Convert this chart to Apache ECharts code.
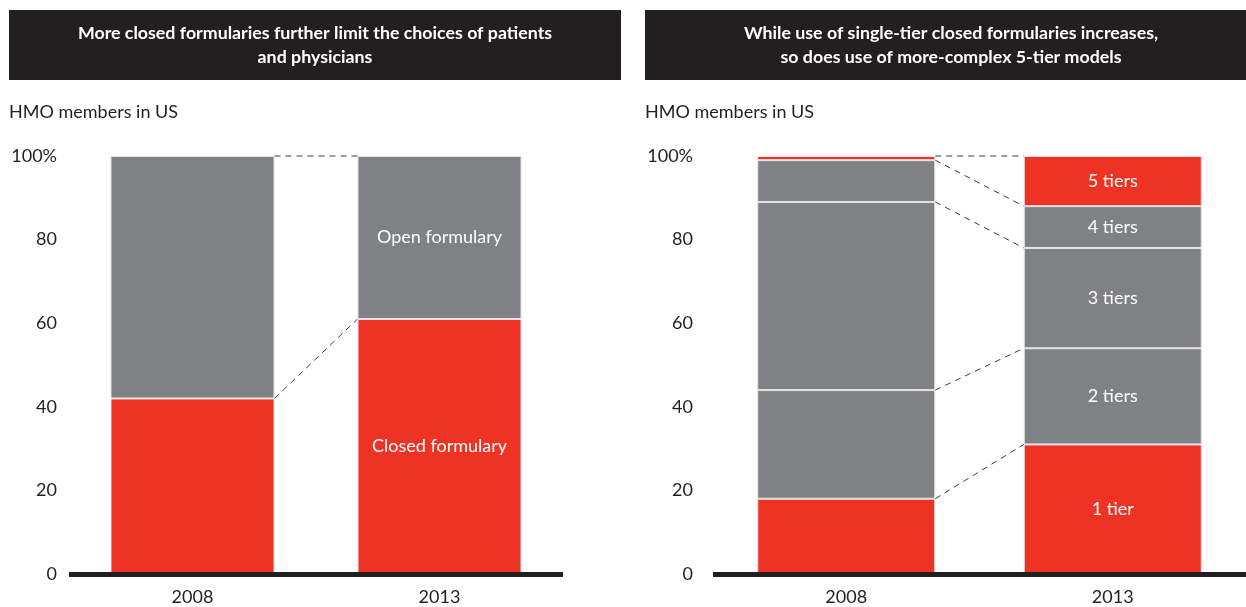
<!DOCTYPE html>
<html>
<head>
<meta charset="utf-8">
<title>HMO formularies</title>
<script src="https://cdn.jsdelivr.net/npm/echarts@6/dist/echarts.min.js"></script>
<style>
  html, body { margin: 0; padding: 0; background: #ffffff; }
  #chart { width: 1246px; height: 607px; }
</style>
</head>
<body>
<div id="chart"></div>
<script>
// ---- data ----
const panelTitles = [
  'More closed formularies further limit the choices of patients\nand physicians',
  'While use of single-tier closed formularies increases,\nso does use of more-complex 5-tier models'
];
const unitLabel = 'HMO members in US';
const years = ['2008', '2013'];

// left panel: share of HMO members (%)
const closedFormulary = [42, 61];
const openFormulary = [58, 39];

// right panel: share of HMO members by number of tiers (%)
const tierNames = ['1 tier', '2 tiers', '3 tiers', '4 tiers', '5 tiers'];
const tier1 = [18, 31];
const tier2 = [26, 23];
const tier3 = [45, 24];
const tier4 = [10, 10];
const tier5 = [1, 12];

const yTickValues = [0, 20, 40, 60, 80, 100];

// ---- styles ----
const RED = '#ee3224';
const GRAY = '#808184';
const INK = '#231f20';
const FONT = 'Lato, "Noto Sans", sans-serif';

const chart = echarts.init(document.getElementById('chart'), null, { renderer: 'canvas' });

// running totals of stacked segments, one list per year
function cumulative(stacks) {
  const out = [];
  let run = years.map(() => 0);
  stacks.forEach(s => {
    run = run.map((v, i) => v + s[i]);
    out.push(run.slice());
  });
  return out;
}

// dashed connectors joining segment tops of the two bars
function connectorSeries(idx, stacks, barWidth) {
  const tops = cumulative(stacks);
  return {
    type: 'custom',
    xAxisIndex: idx,
    yAxisIndex: idx,
    clip: false,
    silent: true,
    z: 1,
    encode: { x: 0, y: [1, 2] },
    data: tops.map((t, k) => [k, t[0], t[1]]),
    renderItem: function (params, api) {
      const a = api.coord([0, api.value(1)]);
      const b = api.coord([1, api.value(2)]);
      return {
        type: 'line',
        shape: { x1: a[0] + barWidth / 2, y1: a[1], x2: b[0] - barWidth / 2, y2: b[1] },
        style: { stroke: '#3c3c3c', lineWidth: 1, lineDash: [6, 5] }
      };
    }
  };
}

function barSeries(idx, name, values, color, barWidth) {
  return {
    type: 'bar',
    name: name,
    xAxisIndex: idx,
    yAxisIndex: idx,
    stack: 'total' + idx,
    barWidth: barWidth,
    itemStyle: { color: color, borderColor: '#e4e4e4', borderWidth: 1 },
    label: { show: false },
    data: values.map((v, i) => ({
      value: v,
      label: {
        show: i === 1,
        position: 'inside',
        formatter: '{a}',
        color: '#ffffff',
        fontFamily: FONT,
        fontSize: 18
      }
    }))
  };
}

function xAxisFor(idx) {
  return {
    type: 'category',
    gridIndex: idx,
    data: years,
    offset: 2.5,
    z: 5,
    axisLine: { lineStyle: { color: INK, width: 5, cap: 'butt' } },
    axisTick: { show: false },
    axisLabel: { color: INK, fontFamily: FONT, fontSize: 18, margin: 12 }
  };
}

function yAxisFor(idx, margin) {
  return {
    type: 'value',
    gridIndex: idx,
    min: 0,
    max: 100,
    interval: 20,
    axisLine: { show: false },
    axisTick: { show: false },
    splitLine: { show: false },
    axisLabel: {
      color: INK,
      fontFamily: FONT,
      fontSize: 18,
      margin: margin,
      padding: [0, 0, 6, 0],
      formatter: v => (v === yTickValues[yTickValues.length - 1] ? v + '%' : String(v))
    }
  };
}

const LEFT_BAR = 164;
const RIGHT_BAR = 178;

const leftStacks = [closedFormulary, openFormulary];
const rightStacks = [tier1, tier2, tier3, tier4, tier5];
const tierColors = [RED, GRAY, GRAY, GRAY, RED];

function headerGraphics(x, title) {
  return [
    {
      type: 'rect',
      shape: { x: x, y: 10, width: 612, height: 70 },
      style: { fill: INK },
      silent: true
    },
    {
      type: 'text',
      x: x + 306,
      y: 45,
      style: {
        text: title,
        fill: '#ffffff',
        font: 'bold 17.8px ' + FONT,
        align: 'center',
        verticalAlign: 'middle',
        lineHeight: 24
      },
      silent: true
    },
    {
      type: 'text',
      x: x,
      y: 112,
      style: {
        text: unitLabel,
        fill: INK,
        font: '18px ' + FONT,
        align: 'left',
        verticalAlign: 'middle'
      },
      silent: true
    }
  ];
}

const option = {
  animation: false,
  backgroundColor: '#ffffff',
  textStyle: { fontFamily: FONT },
  grid: [
    { left: 69, width: 494, top: 156, bottom: 33 },
    { left: 713, width: 540, top: 156, bottom: 33 }
  ],
  xAxis: [xAxisFor(0), xAxisFor(1)],
  yAxis: [yAxisFor(0, 12), yAxisFor(1, 20)],
  graphic: headerGraphics(9, panelTitles[0]).concat(headerGraphics(645, panelTitles[1])),
  series: [
    barSeries(0, 'Closed formulary', closedFormulary, RED, LEFT_BAR),
    barSeries(0, 'Open formulary', openFormulary, GRAY, LEFT_BAR),
    connectorSeries(0, leftStacks, LEFT_BAR)
  ].concat(
    rightStacks.map((s, k) => barSeries(1, tierNames[k], s, tierColors[k], RIGHT_BAR)),
    [connectorSeries(1, rightStacks, RIGHT_BAR)]
  )
};

chart.setOption(option);
</script>
</body>
</html>
